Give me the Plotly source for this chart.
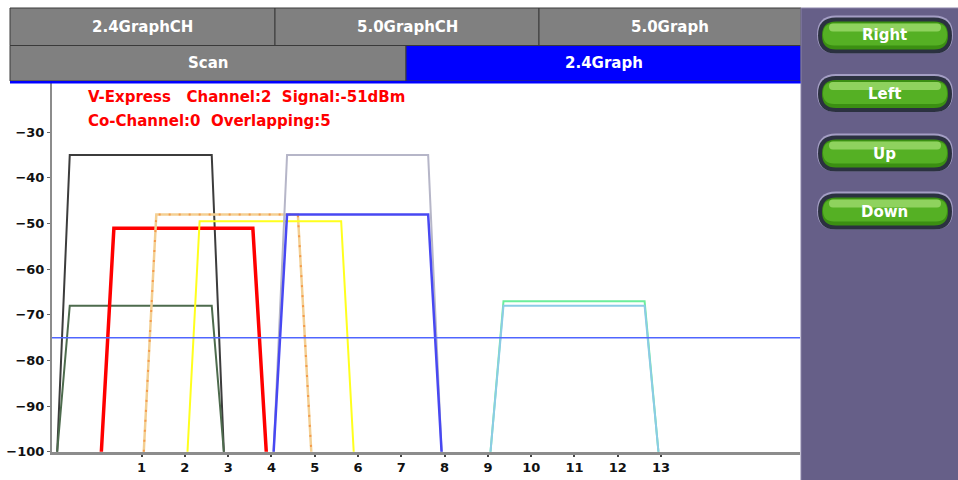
import plotly.graph_objects as go

# channel edges (bottom-left, top-left, top-right, bottom-right)
CH1_X = [-0.95, -0.66, 2.62, 2.90]
CH2_X = [0.07, 0.36, 3.57, 3.88]
CH3_X = [1.05, 1.34, 4.61, 4.92]
CH4_X = [2.06, 2.34, 5.61, 5.90]
CH6_X = [4.05, 4.36, 7.62, 7.93]
CH11_X = [9.06, 9.36, 12.62, 12.94]

FLOOR = -100
AP_X = [CH1_X, CH1_X, CH2_X, CH3_X, CH4_X, CH6_X, CH6_X, CH11_X, CH11_X]
AP_LEVEL = [-35, -68, -51, -48, -49.5, -35, -48, -67, -68]
THRESHOLD = -75

X_TICKS = list(range(1, 14))
Y_TICKS = [-30, -40, -50, -60, -70, -80, -90, -100]

TOP_TABS = ["2.4GraphCH", "5.0GraphCH", "5.0Graph"]
LOW_TABS = ["Scan", "2.4Graph"]
BUTTONS = ["Right", "Left", "Up", "Down"]
INFO_1 = "V-Express   Channel:2  Signal:-51dBm"
INFO_2 = "Co-Channel:0  Overlapping:5"

AP_COLOR = ["#3c3c3c", "#4d6b4d", "#ff0000", "#f3cf93", "#ffff1e",
            "#b6b6c8", "#4848f2", "#6cee9c", "#8ccbe6"]
AP_WIDTH = [2, 2, 3.5, 2.5, 2, 2, 2.5, 2, 2]

FONT = "DejaVu Sans, Verdana, sans-serif"
L, T, W, H = 52, 83, 748, 369


def px(x):
    return (x - L) / W


def py(y):
    return 1 - (y - T) / H


def pill(hw, hh):
    a = hw - hh
    return (f"M {-a},{-hh} L {a},{-hh} Q {a + hh},{-hh} {a + hh},0 "
            f"Q {a + hh},{hh} {a},{hh} L {-a},{hh} Q {-a - hh},{hh} {-a - hh},0 "
            f"Q {-a - hh},{-hh} {-a},{-hh} Z")


fig = go.Figure()
for xs, lvl, col, w in zip(AP_X, AP_LEVEL, AP_COLOR, AP_WIDTH):
    fig.add_trace(go.Scatter(x=xs, y=[FLOOR, lvl, lvl, FLOOR], mode="lines",
                             line={"color": col, "width": w}, hoverinfo="skip"))
    if col == "#f3cf93":
        fig.add_trace(go.Scatter(x=xs, y=[FLOOR, lvl, lvl, FLOOR], mode="lines",
                                 line={"color": "#f59a4a", "width": 2, "dash": "2px,8px"},
                                 hoverinfo="skip"))

shapes = []
annos = []
# tabs
tab_edges = [10, 275, 539, 801]
for i, name in enumerate(TOP_TABS):
    shapes.append(dict(type="rect", xref="paper", yref="paper",
                       x0=px(tab_edges[i]), x1=px(tab_edges[i + 1]), y0=py(45.5), y1=py(8),
                       fillcolor="#808080", line={"color": "#3a3a3a", "width": 1}, layer="above"))
    annos.append(dict(x=px((tab_edges[i] + tab_edges[i + 1]) / 2), y=py(27), text=name))
low_edges = [10, 406, 801]
low_fill = ["#808080", "#0000ff"]
for i, name in enumerate(LOW_TABS):
    shapes.append(dict(type="rect", xref="paper", yref="paper",
                       x0=px(low_edges[i]), x1=px(low_edges[i + 1]), y0=py(81), y1=py(45.5),
                       fillcolor=low_fill[i], line={"color": "#3a3a3a", "width": 1}, layer="above"))
    annos.append(dict(x=px((low_edges[i] + low_edges[i + 1]) / 2), y=py(63), text=name))
shapes.append(dict(type="rect", xref="paper", yref="paper", x0=px(10), x1=px(801),
                   y0=py(83.5), y1=py(81), fillcolor="#0000ff", line={"width": 0}, layer="above"))

# right side panel
shapes.append(dict(type="rect", xref="paper", yref="paper", x0=px(801), x1=px(960),
                   y0=py(482), y1=py(8), fillcolor="#665f88",
                   line={"color": "#8a84a8", "width": 1}, layer="above"))
btn_y = [35.5, 94, 153.5, 211.5]
for name, cy in zip(BUTTONS, btn_y):
    for hw, hh, dy, fill in [(68, 19, -1, "#a49ec4"), (67, 18, 0, "#2b3140"),
                             (63, 14, 0, "#3b8f12"), (62, 11, -1, "#55b024"),
                             (56, 4, -8, "#8fd25e")]:
        shapes.append(dict(type="path", xref="paper", yref="paper",
                           xsizemode="pixel", ysizemode="pixel",
                           xanchor=px(885), yanchor=py(cy + dy), path=pill(hw, hh),
                           fillcolor=fill, line={"width": 0}, layer="above"))
    annos.append(dict(x=px(885), y=py(cy), text=name))

fig.update_layout(
    width=958, height=480,
    margin={"l": L, "r": 958 - L - W, "t": T, "b": 480 - T - H},
    paper_bgcolor="white", plot_bgcolor="white",
    showlegend=False,
    font={"family": FONT, "color": "black", "size": 14},
    shapes=shapes,
    xaxis={"range": [-1.07, 16.21], "tickvals": X_TICKS, "showgrid": False,
           "automargin": False,
           "zeroline": False, "showline": True, "linecolor": "#8c8c8c", "linewidth": 2.5,
           "ticks": "outside", "ticklen": 2, "tickwidth": 2, "tickcolor": "#444",
           "tickfont": {"family": FONT, "size": 13, "weight": "bold", "color": "#111"}},
    yaxis={"range": [-100.05, -19.2], "tickvals": Y_TICKS, "showgrid": False,
           "automargin": False,
           "zeroline": False, "showline": True, "linecolor": "#8c8c8c", "linewidth": 2,
           "ticks": "outside", "ticklen": 3, "tickcolor": "#666",
           "tickfont": {"family": FONT, "size": 13, "weight": "bold", "color": "#111"}},
)

fig.add_hline(y=THRESHOLD, line={"color": "#5066ff", "width": 1.5}, opacity=1)

for a in annos:
    fig.add_annotation(xref="paper", yref="paper", showarrow=False,
                       xanchor="center", yanchor="middle",
                       font={"family": FONT, "size": 15, "color": "white", "weight": "bold"}, **a)

for txt, y in [(INFO_1, 97), (INFO_2, 121)]:
    fig.add_annotation(xref="paper", yref="paper", x=px(86), y=py(y), text=txt,
                       showarrow=False, xanchor="left", yanchor="middle",
                       font={"family": FONT, "size": 15, "color": "#ff0000", "weight": "bold"})

fig.write_html("out.html", config={"displayModeBar": False},
               post_script="document.body.style.margin='0';")
